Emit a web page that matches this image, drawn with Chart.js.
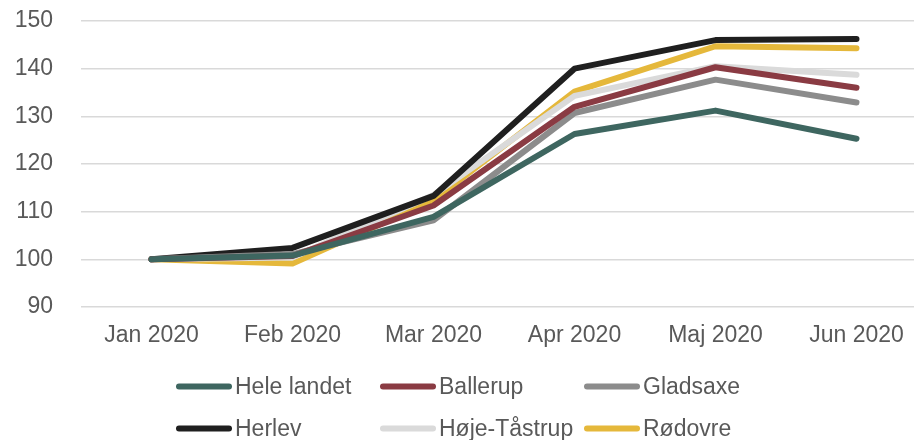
<!DOCTYPE html>
<html>
<head>
<meta charset="utf-8">
<script src="https://cdn.jsdelivr.net/npm/chart.js@4"></script>
<style>
  html, body { margin: 0; padding: 0; background: #fff; overflow: hidden; }
  #wrap { position: relative; width: 930px; height: 440px; }
</style>
</head>
<body>
<div id="wrap"><canvas id="c" width="930" height="440"></canvas></div>
<script>
const categories = ["Jan 2020", "Feb 2020", "Mar 2020", "Apr 2020", "Maj 2020", "Jun 2020"];
const seriesNames = ["Hele landet", "Ballerup", "Gladsaxe", "Herlev", "Høje-Tåstrup", "Rødovre"];
const heleLandet  = [100, 100.8, 108.9, 126.3, 131.2, 125.3];
const ballerup    = [100, 100.7, 111.3, 132.0, 140.3, 136.0];
const gladsaxe    = [100, 101.1, 108.2, 130.7, 137.7, 132.9];
const herlev      = [100, 102.4, 113.3, 140.0, 146.0, 146.2];
const hojeTastrup = [100, 100.4, 113.5, 134.3, 140.5, 138.7];
const rodovre     = [100, 99.1, 112.4, 135.2, 144.7, 144.3];
const yTicks = [90, 100, 110, 120, 130, 140, 150];
const colors = ["#3e6660", "#8a3b43", "#8c8c8c", "#1f1f1f", "#dadada", "#e5b83b"];

const values = [heleLandet, ballerup, gladsaxe, herlev, hojeTastrup, rodovre];
const FONT = "'Liberation Sans', Arial, sans-serif";

const gridLegend = {
  id: 'gridLegend',
  afterDraw(chart) {
    const ctx = chart.ctx;
    const cols = [176, 380, 584];
    const rows = [386.5, 428.5];
    ctx.save();
    ctx.font = "23px " + FONT;
    ctx.textBaseline = 'middle';
    ctx.textAlign = 'left';
    chart.data.datasets.forEach((ds, i) => {
      const x = cols[i % 3];
      const y = rows[Math.floor(i / 3)];
      ctx.strokeStyle = ds.borderColor;
      ctx.lineWidth = 6;
      ctx.lineCap = 'round';
      ctx.beginPath();
      ctx.moveTo(x + 3, y);
      ctx.lineTo(x + 53, y);
      ctx.stroke();
      ctx.fillStyle = '#595959';
      ctx.fillText(ds.label, x + 59, y + 1);
    });
    ctx.restore();
  }
};

new Chart(document.getElementById('c'), {
  type: 'line',
  data: {
    labels: categories,
    datasets: seriesNames.map((n, i) => ({
      label: n,
      data: values[i],
      borderColor: colors[i],
      backgroundColor: colors[i],
      borderWidth: 6,
      borderCapStyle: 'round',
      borderJoinStyle: 'round',
      pointRadius: 0,
      tension: 0,
      fill: false
    }))
  },
  options: {
    responsive: false,
    animation: false,
    devicePixelRatio: 1,
    layout: { autoPadding: false, padding: { top: 21, bottom: 80, left: 0, right: 3 } },
    plugins: { legend: { display: false }, tooltip: { enabled: false } },
    scales: {
      x: {
        offset: true,
        grid: { display: false, drawTicks: false },
        border: { display: false },
        ticks: { color: '#595959', font: { family: FONT, size: 23 }, padding: 15, maxRotation: 0, autoSkip: false },
        afterFit(s) { s.height = 53; s.paddingLeft = 0; s.paddingRight = 0; }
      },
      y: {
        min: 90, max: 150,
        afterBuildTicks(s) { s.ticks = yTicks.map(v => ({ value: v })); },
        grid: { color: '#d9d9d9', lineWidth: 1.5, drawTicks: false },
        border: { display: false },
        ticks: { color: '#595959', font: { family: FONT, size: 23 }, padding: 28 },
        afterFit(s) { s.width = 81; s.paddingTop = 0; s.paddingBottom = 0; }
      }
    }
  },
  plugins: [gridLegend]
});
</script>
</body>
</html>
